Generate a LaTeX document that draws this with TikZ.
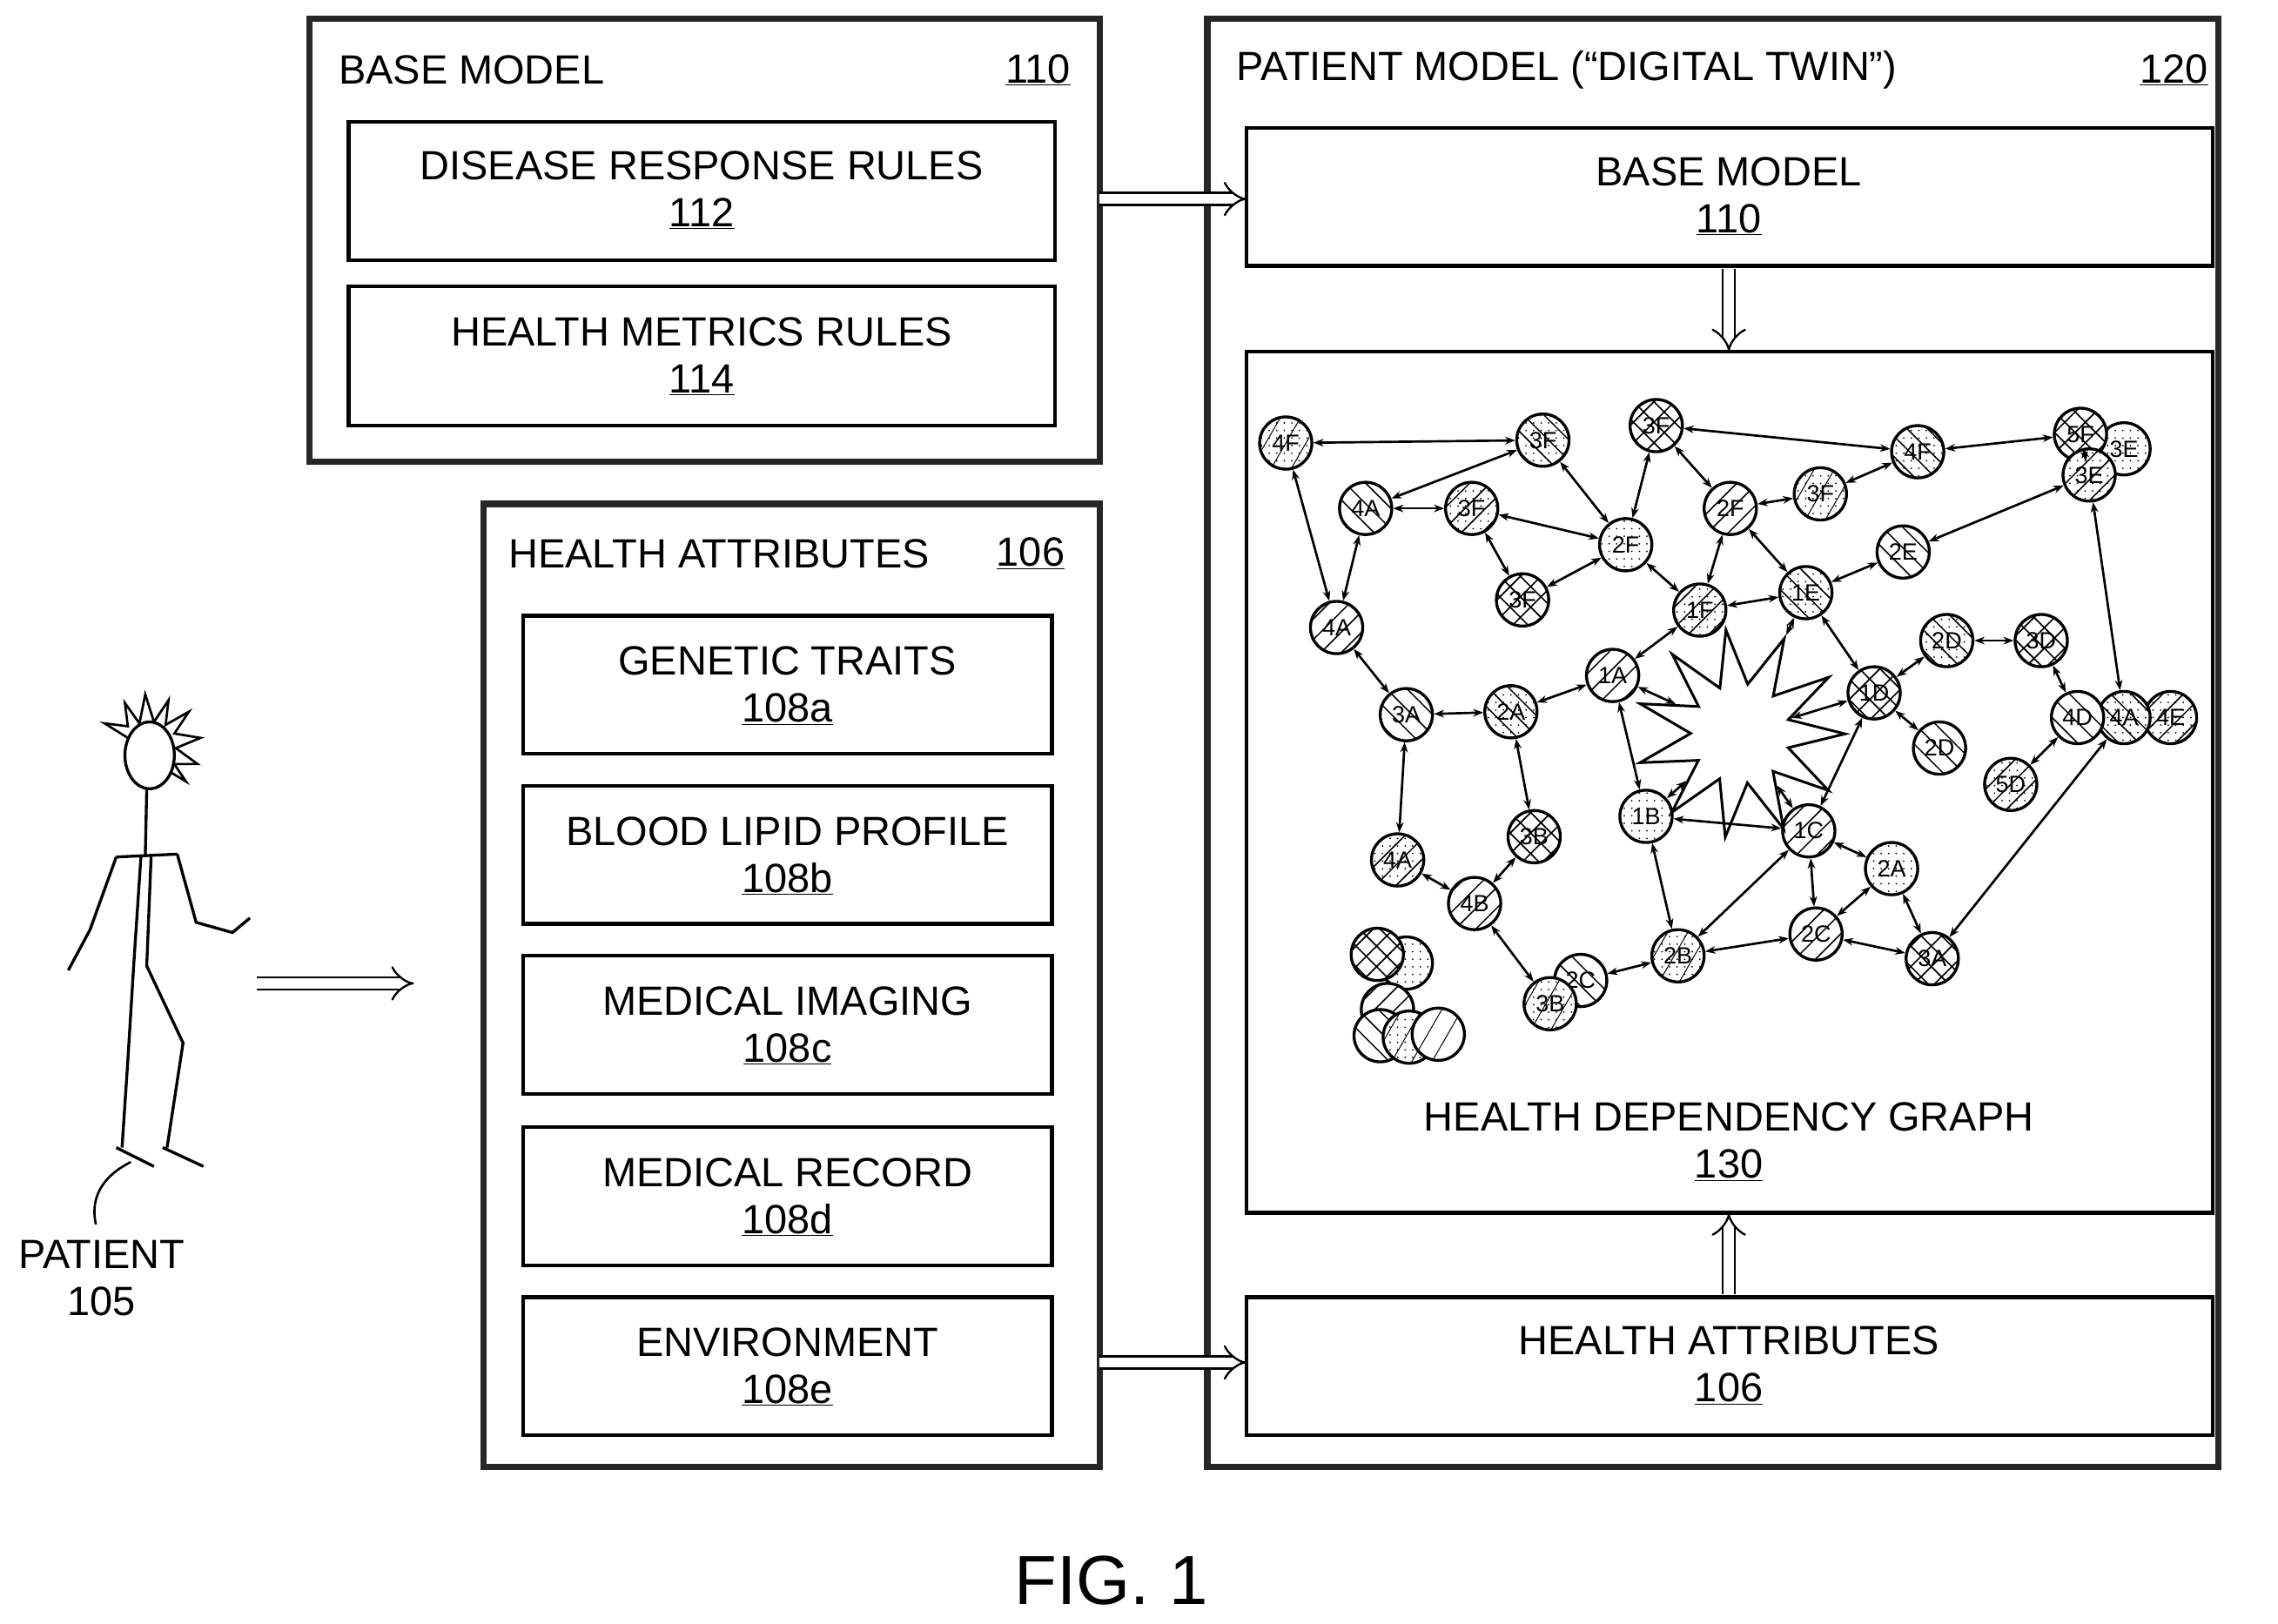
\documentclass[tikz,border=0pt]{standalone}
\usepackage{fontspec}
\setmainfont{Liberation Sans}
\usetikzlibrary{arrows.meta,patterns.meta,shapes.geometric}
\newcommand\fA{\fontsize{40}{46}\selectfont}
\newcommand\fN{\fontsize{23}{24}\selectfont}
\newcommand\fG{\fontsize{68}{72}\selectfont}
\begin{document}
\begin{tikzpicture}[x=0.5mm,y=-0.5mm,
 outer/.style={draw=black!85,line width=2.2mm},
 inner/.style={draw=black,line width=1.3mm},
 txt/.style={font=\fA,align=center,inner sep=0pt},
 hollow/.style={double,double distance=3.5mm,line width=0.7mm,-{Implies[length=9mm]}},
 gn/.style={circle,draw=black,line width=1mm,minimum size=18mm,inner sep=0pt,font=\fN,fill=white},
 pl/.style={postaction={pattern={Lines[angle=45,distance=5mm,line width=0.45mm]}}},
 pr/.style={postaction={pattern={Lines[angle=-45,distance=5mm,line width=0.45mm]}}},
 px/.style={postaction={pattern={Hatch[angle=45,distance=5mm,line width=0.5mm]}}},
 pd/.style={postaction={pattern={Dots[distance=2.6mm,radius=0.3mm]}}},
 pdl/.style={postaction={pattern={Lines[angle=60,distance=6mm,line width=0.3mm]}}},
 ed/.style={line width=0.8mm,{Stealth[length=3.5mm]}-{Stealth[length=3.5mm]}},
 ln/.style={line width=0.8mm},
]
\useasboundingbox (0,0) rectangle (1568,1118);
% Base model box
\draw[outer] (213,13) rectangle (757,318);
\node[txt,anchor=west] (bmt) at (233,48) {BASE MODEL};
\node[txt,anchor=east] (bmn) at (737,48) {\underline{110}};
\draw[inner] (240,84) rectangle (726,179);
\node[txt] (drr) at (483,131) {DISEASE RESPONSE RULES\\\underline{112}};
\draw[inner] (240,197) rectangle (726,293);
\node[txt] (hmr) at (483,245) {HEALTH METRICS RULES\\\underline{114}};
% Health attributes box
\draw[outer] (333,347) rectangle (757,1010);
\node[txt,anchor=west] (hat) at (350,381) {HEALTH ATTRIBUTES};
\node[txt,anchor=east] (han) at (733,381) {\underline{106}};
\foreach \y/\a/\b in {424/GENETIC TRAITS/108a,541/BLOOD LIPID PROFILE/108b,658/MEDICAL IMAGING/108c,776/MEDICAL RECORD/108d,893/ENVIRONMENT/108e}{
  \draw[inner] (360,\y) rectangle (724,\y+95);
  \node[txt] at (542,\y+48) {\a\\\underline{\b}};
}
% Patient model
\draw[outer] (831,13) rectangle (1527,1010);
\node[txt,anchor=west] (pmt) at (851,48) {PATIENT MODEL (“DIGITAL TWIN”)};
\node[txt,anchor=east] (pmn) at (1520,48) {\underline{120}};
\draw[inner] (858,88) rectangle (1523,183);
\node[txt] (bm2) at (1190,135) {BASE MODEL\\\underline{110}};
\draw[inner] (858,242) rectangle (1523,835);
\node[txt] (hdg) at (1190,786) {HEALTH DEPENDENCY GRAPH\\\underline{130}};
\draw[inner] (858,893) rectangle (1523,988);
\node[txt] (ha2) at (1190,940) {HEALTH ATTRIBUTES\\\underline{106}};
% hollow arrows
\coordinate (a1) at (757,137); \coordinate (a2) at (858,137);
\coordinate (b1) at (757,938); \coordinate (b2) at (858,938);
\coordinate (c1) at (1190,185); \coordinate (c2) at (1190,242);
\coordinate (d1) at (1190,891); \coordinate (d2) at (1190,835);
\coordinate (e1) at (177,677); \coordinate (e2) at (285,677);
\foreach \s/\t in {a1/a2,b1/b2,c1/c2,d1/d2,e1/e2} \draw[hollow] (\s) -- (\t);
\node[font=\fG] (fig) at (765,1088) {FIG. 1};
% patient
\node[txt] (pat) at (70,880) {PATIENT\\105};
\draw[ln,line width=1mm] (103,520) ellipse (17 and 23);
\draw[ln,line width=0.8mm] (88,508) -- (72,498) -- (88,500) -- (86,484) -- (96,498) -- (100,478) -- (106,497) -- (116,482) -- (114,499) -- (130,490) -- (120,505) -- (138,508) -- (121,515) -- (136,526) -- (120,526) -- (128,538) -- (118,532);
\draw[ln,line width=1mm] (101,543) -- (100,590) (80,590) -- (122,588)
 (80,590) -- (62,640) -- (47,668) (122,588) -- (135,635) -- (160,642) -- (172,632)
 (97,590) -- (92,665) -- (88,730) -- (84,790) (104,590) -- (101,665) -- (126,718) -- (115,790)
 (80,790) -- (106,803) (112,790) -- (140,803);
\draw[line width=0.8mm] (90,800) .. controls (70,810) and (62,825) .. (66,843);
% graph nodes
\node[gn,pd,pdl] (n4Fa) at (885,305) {4F};
\node[gn,pd,pr] (n3Fa) at (1062,303) {3F};
\node[gn,px] (n3Fb) at (1140,293) {3F};
\node[gn,pr] (n4Aa) at (940,350) {4A};
\node[gn,pd,pl] (n3Fc) at (1013,350) {3F};
\node[gn,pd] (n2Fa) at (1119,375) {2F};
\node[gn,px] (n3Fd) at (1048,413) {3F};
\node[gn,pl] (n4Ab) at (920,432) {4A};
\node[gn,pd,pl] (n1F) at (1170,420) {1F};
\node[gn,pl] (n2Fb) at (1191,350) {2F};
\node[gn,pd,pdl] (n3Fe) at (1253,340) {3F};
\node[gn,pd,pr] (n4Fb) at (1320,311) {4F};
\node[gn,pd] (n3Eb) at (1462,309) {3E};
\node[gn,px] (n5F) at (1432,299) {5F};
\node[gn,pd,pl] (n3Ea) at (1438,327) {3E};
\node[gn,pr] (n2E) at (1310,380) {2E};
\node[gn,pd,pr] (n1E) at (1243,408) {1E};
\node[gn,pl] (n1A) at (1110,465) {1A};
\node[gn,pr] (n3Aa) at (968,492) {3A};
\node[gn,pd,pr] (n2Aa) at (1040,490) {2A};
\node[gn,pd,pr] (n2Da) at (1340,441) {2D};
\node[gn,px] (n3D) at (1405,441) {3D};
\node[gn,px] (n1D) at (1290,477) {1D};
\node[gn,pr] (n2Db) at (1335,515) {2D};
\node[gn,pd,pl] (n4E) at (1494,494) {4E};
\node[gn,pd,pr] (n4Ac) at (1462,494) {4A};
\node[gn,pr] (n4D) at (1430,494) {4D};
\node[gn,pd,pl] (n5D) at (1384,540) {5D};
\node[gn,pd] (n1B) at (1133,562) {1B};
\node[gn,pl] (n1C) at (1245,572) {1C};
\node[gn,pd] (n2Ab) at (1302,598) {2A};
\node[gn,pd,pl] (n4Ad) at (962,592) {4A};
\node[gn,px] (n3Ba) at (1056,576) {3B};
\node[gn,pl] (n4B) at (1015,622) {4B};
\node[gn,pl] (n2Cb) at (1250,643) {2C};
\node[gn,px] (n3Ab) at (1330,660) {3A};
\node[gn,pd,pdl] (n2B) at (1155,658) {2B};
\node[gn,pr] (n2Ca) at (1088,675) {2C};
\node[gn,pd,pdl] (n3Bb) at (1067,691) {3B};
% cluster
\node[gn,pd] (k2) at (968,663) {};
\node[gn,px] (k1) at (948,657) {};
\node[gn,pl] (k3) at (955,695) {};
\node[gn,pr] (k4) at (950,713) {};
\node[gn,pd,pdl] (k5) at (970,714) {};
\node[gn,pdl] (k6) at (990,712) {};
% burst
\node[star,star points=11,star point ratio=2.1,draw,line width=0.9mm,minimum size=72mm,inner sep=0pt,rotate=8] (burst) at (1198,505) {};
% edges
\foreach \s/\t in {n4Fa/n3Fa,n4Fa/n4Ab,n3Fa/n4Aa,n4Aa/n3Fc,n4Aa/n4Ab,n3Fc/n2Fa,n3Fc/n3Fd,n3Fd/n2Fa,n3Fa/n2Fa,n2Fa/n1F,n2Fa/n3Fb,n3Fb/n2Fb,n3Fb/n4Fb,n2Fb/n3Fe,n3Fe/n4Fb,n4Fb/n5F,n2Fb/n1F,n2Fb/n1E,n1F/n1E,n1E/n2E,n2E/n3Ea,n3Ea/n4Ac,n4Ab/n3Aa,n3Aa/n2Aa,n2Aa/n1A,n1A/n1F,n1A/n1B,n1A/burst,n1B/burst,n1E/burst,n1E/n1D,n1D/burst,n1D/n2Da,n2Da/n3D,n3D/n4D,n1D/n2Db,n4D/n5D,n4Ac/n3Ab,n3Aa/n4Ad,n2Aa/n3Ba,n4Ad/n4B,n3Ba/n4B,n4B/n3Bb,n2Ca/n2B,n1B/n2B,n1B/n1C,n1C/n2B,n1C/n2Ab,n1C/n2Cb,n2Ab/n2Cb,n2Ab/n3Ab,n2Cb/n3Ab,n2B/n2Cb,n1C/burst,n1D/n1C,n5F/n3Ea}
  \draw[ed] (\s) -- (\t);
\end{tikzpicture}
\end{document}
